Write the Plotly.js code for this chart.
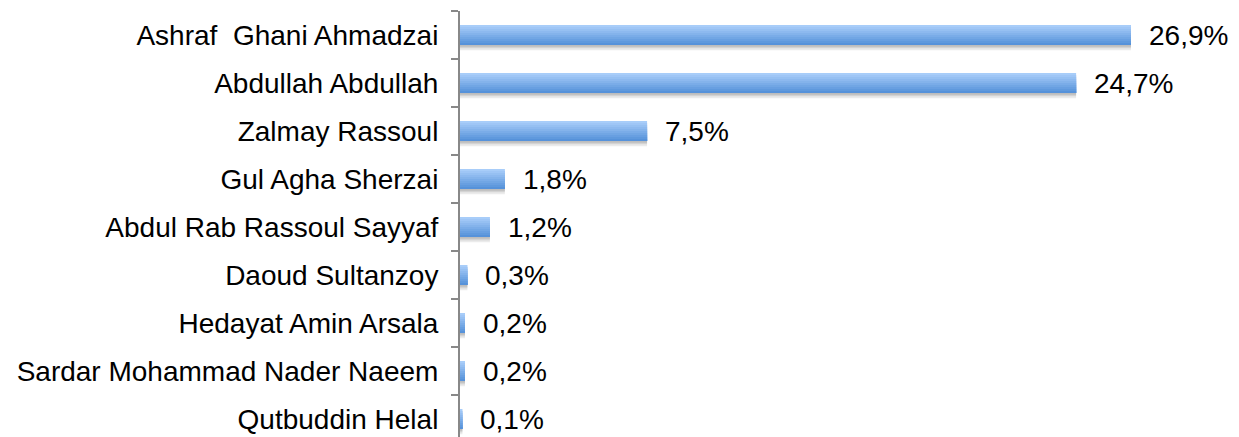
<!DOCTYPE html>
<html>
<head>
<meta charset="utf-8">
<script src="https://cdn.plot.ly/plotly-3.0.1.min.js"></script>
<style>html,body{margin:0;padding:0;background:#fff;}#chart{width:1239px;height:437px;}</style>
</head>
<body>
<div id="chart"></div>
<script>
const candidates = [
  "Ashraf  Ghani Ahmadzai",
  "Abdullah Abdullah",
  "Zalmay Rassoul",
  "Gul Agha Sherzai",
  "Abdul Rab Rassoul Sayyaf",
  "Daoud Sultanzoy",
  "Hedayat Amin Arsala",
  "Sardar Mohammad Nader Naeem",
  "Qutbuddin Helal"
];
const shares = [26.9, 24.7, 7.5, 1.8, 1.2, 0.3, 0.2, 0.2, 0.1];
const shareLabels = ["26,9%", "24,7%", "7,5%", "1,8%", "1,2%", "0,3%", "0,2%", "0,2%", "0,1%"];

const FONT = "Liberation Sans, Arial, sans-serif";
const barW = 20 / 48;
const nStrips = 10;
const gradTop = [168, 205, 249];
const gradBot = [86, 146, 218];

const traces = [];
// soft shadow below bars
[[0.11, 0.08], [0.07, 0.10], [0.035, 0.10]].forEach(function (s) {
  traces.push({
    type: "bar", orientation: "h", y: candidates, x: shares,
    offset: -barW / 2 + s[0], width: barW,
    marker: {color: "rgba(0,0,0," + s[1] + ")", line: {width: 0}},
    hoverinfo: "skip", showlegend: false
  });
});
// gradient bar as stacked-over strips (each reaches the bar's bottom edge)
for (let i = 0; i < nStrips; i++) {
  const t = i / (nStrips - 1);
  const c = gradTop.map(function (v, k) { return Math.round(v + (gradBot[k] - v) * t); });
  const off = -barW / 2 + i * barW / nStrips;
  traces.push({
    type: "bar", orientation: "h", y: candidates, x: shares,
    offset: off, width: barW / 2 - off,
    marker: {color: "rgb(" + c.join(",") + ")", line: {width: 0}},
    hoverinfo: "skip", showlegend: false
  });
}

const annotations = candidates.map(function (c, i) {
  return {
    x: shares[i], y: c, xref: "x", yref: "y",
    text: shareLabels[i], showarrow: false,
    xanchor: "left", yanchor: "middle", xshift: 16,
    font: {family: FONT, size: 28, color: "#000"}
  };
});

const layout = {
  width: 1239, height: 437,
  margin: {l: 460, r: 0, t: 11, b: 0},
  paper_bgcolor: "#fff", plot_bgcolor: "#fff",
  barmode: "overlay",
  showlegend: false,
  xaxis: {
    range: [0, 31.23], visible: false, showgrid: false, zeroline: false, fixedrange: true
  },
  yaxis: {
    type: "category",
    range: [8.375, -0.5],
    showline: true, linecolor: "#888888", linewidth: 2,
    ticks: "outside", tickson: "boundaries", ticklen: 7, tickcolor: "#888888", tickwidth: 2,
    ticklabelstandoff: 14,
    showgrid: false, zeroline: false,
    tickfont: {family: FONT, size: 28, color: "#000"},
    fixedrange: true
  },
  annotations: annotations
};

Plotly.newPlot("chart", traces, layout, {displayModeBar: false, staticPlot: true});
</script>
</body>
</html>
